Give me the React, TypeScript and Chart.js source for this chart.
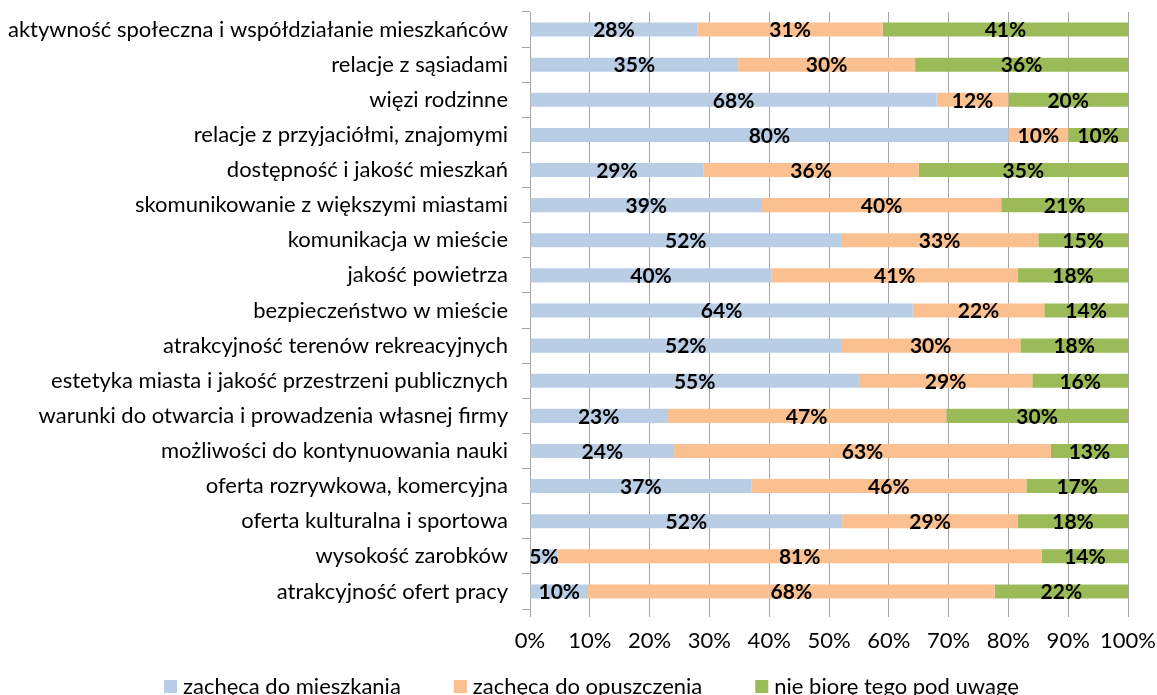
import React, { useEffect, useRef } from 'react';
import { Chart, registerables } from 'chart.js';

Chart.register(...registerables);

const categories = [
  'aktywność społeczna i współdziałanie mieszkańców',
  'relacje z sąsiadami',
  'więzi rodzinne',
  'relacje z przyjaciółmi, znajomymi',
  'dostępność i jakość mieszkań',
  'skomunikowanie z większymi miastami',
  'komunikacja w mieście',
  'jakość powietrza',
  'bezpieczeństwo w mieście',
  'atrakcyjność terenów rekreacyjnych',
  'estetyka miasta i jakość przestrzeni publicznych',
  'warunki do otwarcia i prowadzenia własnej firmy',
  'możliwości do kontynuowania nauki',
  'oferta rozrywkowa, komercyjna',
  'oferta kulturalna i sportowa',
  'wysokość zarobków',
  'atrakcyjność ofert pracy',
];

const zachecaDoMieszkania = [28, 34.8, 68, 80, 29, 38.8, 52, 40.4, 64, 52, 55, 22.9, 24.1, 37, 52.2, 4.6, 9.7];
const zachecaDoOpuszczenia = [31, 29.6, 12, 10, 36, 40.0, 33, 41.2, 22, 30, 29, 46.7, 63, 46, 29.4, 81.0, 68.0];
const nieBioreTegoPodUwage = [41, 35.6, 20, 10, 35, 21.2, 15, 18.4, 14, 18, 16, 30.4, 12.9, 17, 18.4, 14.4, 22.3];

const seriesNames = ['zachęca do mieszkania', 'zachęca do opuszczenia', 'nie biorę tego pod uwagę'];
const seriesColors = ['#B9CDE5', '#FAC090', '#9BBB59'];

const FONT = 'Lato, "Open Sans", sans-serif';
const LABEL_SIZE = 22;
const DATA_LABEL_SIZE = 21;
const LEGEND_SIZE = 22;
const GRID = '#a6a6a6';

const dataLabelPlugin = {
  id: 'dataLabels',
  afterDatasetsDraw(chart: any) {
    const ctx = chart.ctx;
    ctx.save();
    ctx.font = `bold ${DATA_LABEL_SIZE}px ${FONT}`;
    ctx.fillStyle = '#000';
    ctx.textAlign = 'center';
    ctx.textBaseline = 'middle';
    chart.data.datasets.forEach((ds: any, di: number) => {
      const meta = chart.getDatasetMeta(di);
      meta.data.forEach((el: any, i: number) => {
        const v = ds.data[i];
        const cx = (el.x + el.base) / 2;
        ctx.fillText(`${Math.round(v)}%`, cx, el.y + 1);
      });
    });
    ctx.restore();
  },
};

const legendPlugin = {
  id: 'bottomLegend',
  afterDraw(chart: any) {
    const ctx = chart.ctx;
    ctx.save();
    ctx.font = `${LEGEND_SIZE}px ${FONT}`;
    ctx.textBaseline = 'middle';
    ctx.textAlign = 'left';
    const box = 13;
    const boxGap = 6;
    const itemGap = 53;
    const items = chart.data.datasets.map((ds: any) => ({
      text: ds.label,
      color: ds.backgroundColor,
      w: box + boxGap + ctx.measureText(ds.label).width,
    }));
    const total = items.reduce((s: number, it: any) => s + it.w, 0) + itemGap * (items.length - 1);
    let x = Math.round(chart.width / 2 - total / 2 + 13);
    const y = chart.height - 8.5;
    items.forEach((it: any) => {
      ctx.fillStyle = it.color;
      ctx.fillRect(x, Math.round(y - box / 2), box, box);
      ctx.fillStyle = '#000';
      ctx.fillText(it.text, x + box + boxGap, y);
      x += it.w + itemGap;
    });
    ctx.restore();
  },
};

export default function App() {
  const ref = useRef<HTMLCanvasElement | null>(null);

  useEffect(() => {
    if (!ref.current) return;
    const datasets = [zachecaDoMieszkania, zachecaDoOpuszczenia, nieBioreTegoPodUwage].map((d, i) => ({
      label: seriesNames[i],
      data: d,
      backgroundColor: seriesColors[i],
      borderWidth: 0,
      barPercentage: 0.4,
      categoryPercentage: 1,
    }));
    const chart = new Chart(ref.current, {
      type: 'bar',
      data: { labels: categories, datasets },
      plugins: [dataLabelPlugin, legendPlugin],
      options: {
        indexAxis: 'y',
        animation: false,
        responsive: true,
        maintainAspectRatio: false,
        layout: { padding: { top: 12, right: 29, bottom: 46, left: 0 } },
        plugins: {
          legend: { display: false },
          tooltip: { enabled: false },
        },
        scales: {
          x: {
            stacked: true,
            min: 0,
            max: 100,
            ticks: {
              stepSize: 10,
              callback: (v: any) => `${v}%`,
              color: '#000',
              font: { family: FONT, size: LABEL_SIZE },
              padding: 11,
              maxRotation: 0,
            },
            grid: { color: GRID, tickLength: 8, lineWidth: 1 },
            border: { display: false },
            afterFit: (s: any) => {
              s.height = 40;
              s.paddingLeft = 0;
              s.paddingRight = 0;
            },
          },
          y: {
            stacked: true,
            ticks: {
              color: '#000',
              font: { family: FONT, size: LABEL_SIZE },
              padding: 14,
              autoSkip: false,
            },
            grid: { color: GRID, drawOnChartArea: false, tickLength: 8, offset: true },
            border: { display: true, color: GRID },
            afterFit: (s: any) => {
              s.width = 530;
              s.paddingTop = 0;
              s.paddingBottom = 0;
            },
          },
        },
      },
    });
    return () => chart.destroy();
  }, []);

  return (
    <div style={{ position: 'fixed', left: 0, top: 0, width: 1157, height: 695, background: '#fff' }}>
      <canvas ref={ref} />
    </div>
  );
}
